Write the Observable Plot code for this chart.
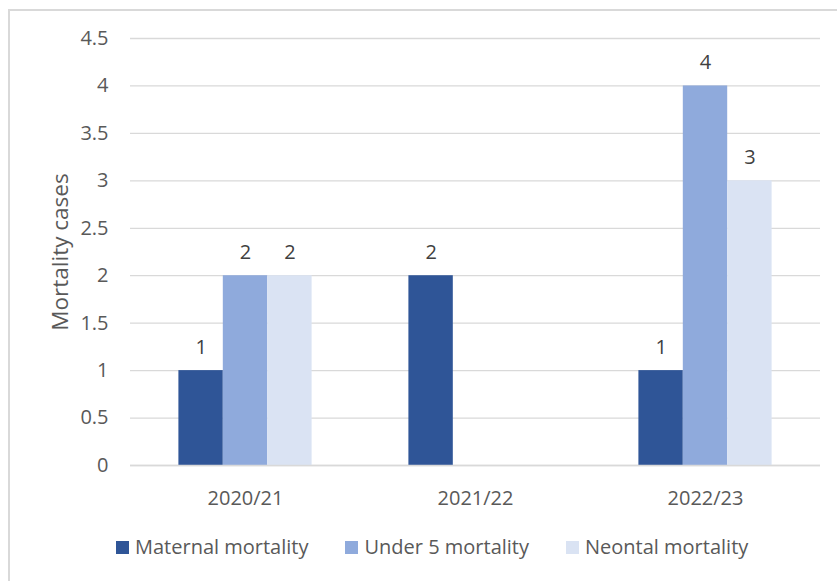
<!DOCTYPE html>
<html>
<head>
<meta charset="utf-8">
<script src="https://cdn.jsdelivr.net/npm/d3@7"></script>
<script src="https://cdn.jsdelivr.net/npm/@observablehq/plot@0.6"></script>
<style>
  html, body { margin: 0; padding: 0; background: #fff; overflow: hidden; }
  #wrap { position: relative; width: 837px; height: 581px; font-family: "Open Sans", sans-serif; color: #595959; }
  #border { position: absolute; left: 8px; top: 9px; width: 900px; height: 700px; border: 2px solid #d9d9d9; box-sizing: border-box; }
  #chart { position: absolute; left: 0; top: 0; }
  #legend { position: absolute; left: 116px; top: 533px; display: flex; align-items: center; font-size: 20px; line-height: 28px; white-space: nowrap; }
  .item { display: flex; align-items: center; margin-right: 37px; }
  .sw { width: 13px; height: 13px; margin-right: 6px; }
</style>
</head>
<body>
<div id="wrap">
  <div id="border"></div>
  <div id="chart"></div>
  <div id="legend"></div>
</div>
<script>
const years = ["2020/21", "2021/22", "2022/23"];
const series = ["Maternal mortality", "Under 5 mortality", "Neontal mortality"];
const maternal = [1, 2, 1];
const under5 = [2, null, 4];
const neonatal = [2, null, 3];
const colors = ["#2F5597", "#8FAADC", "#DAE3F3"];
const yTicks = [0, 0.5, 1, 1.5, 2, 2.5, 3, 3.5, 4, 4.5];
const yLabel = "Mortality cases";

const seriesValues = [maternal, under5, neonatal];
const data = [];
years.forEach((yr, i) => {
  series.forEach((s, j) => {
    data.push({year: yr, series: s, value: seriesValues[j][i]});
  });
});
const shown = data.filter(d => d.value != null);

const chart = Plot.plot({
  width: 837,
  height: 515,
  marginLeft: 130,
  marginRight: 17,
  marginTop: 38,
  marginBottom: 50,
  style: {fontFamily: "Open Sans, sans-serif", fontSize: "20px", color: "#595959", background: "transparent", overflow: "visible"},
  fx: {domain: years, padding: 0, round: false, label: null, tickSize: 0, tickPadding: 25},
  x: {domain: series, paddingInner: 0, paddingOuter: 1.09, round: false, axis: null},
  y: {domain: [0, 4.5], ticks: yTicks, tickSize: 0, tickPadding: 22, label: null, tickFormat: d => String(d)},
  color: {domain: series, range: colors},
  marks: [
    Plot.gridY(yTicks, {stroke: "#d9d9d9", strokeOpacity: 1, strokeWidth: 1.3}),
    Plot.barY(shown, {fx: "year", x: "series", y: "value", fill: "series"}),
    Plot.ruleY([0], {stroke: "#d9d9d9", strokeWidth: 1.5}),
    Plot.text(shown, {fx: "year", x: "series", y: "value", text: d => String(d.value), dy: -23, fill: "#404040", fontSize: 20}),
    Plot.text([{year: years[0]}], {fx: "year", frameAnchor: "left", textAnchor: "middle", dx: -70, rotate: -90, text: () => yLabel, fontSize: 22.5, fill: "#595959"})
  ]
});
document.getElementById("chart").appendChild(chart);

const legend = document.getElementById("legend");
series.forEach((s, j) => {
  const item = document.createElement("div");
  item.className = "item";
  const sw = document.createElement("div");
  sw.className = "sw";
  sw.style.background = colors[j];
  const t = document.createElement("span");
  t.textContent = s;
  item.appendChild(sw);
  item.appendChild(t);
  legend.appendChild(item);
});
</script>
</body>
</html>
